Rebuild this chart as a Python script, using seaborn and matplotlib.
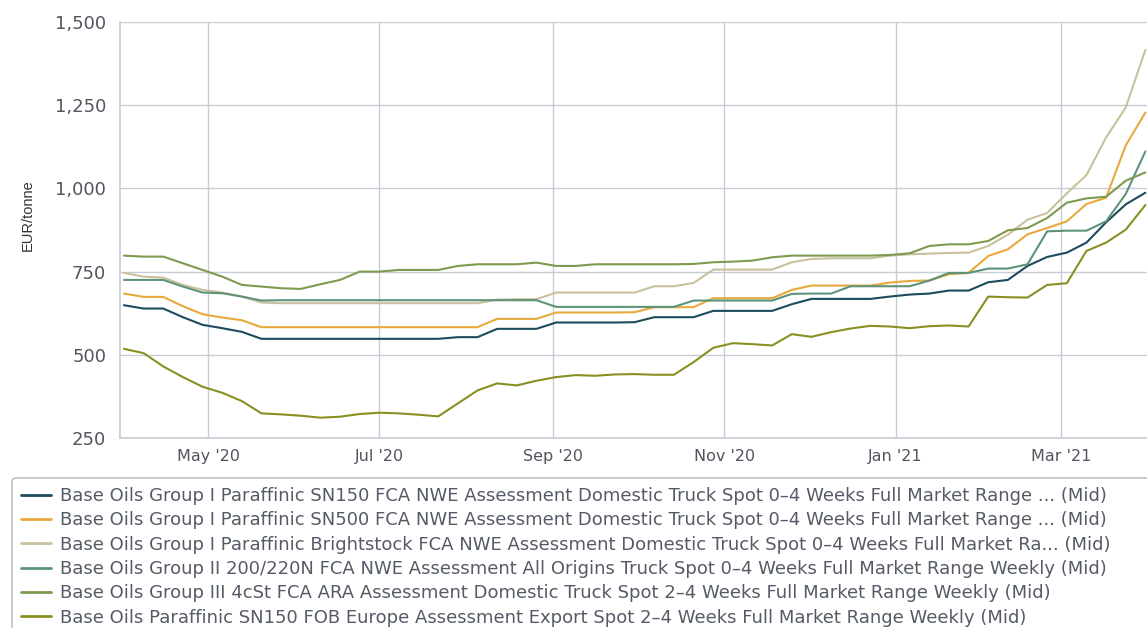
import pandas as pd
import numpy as np
import seaborn as sns
import matplotlib.pyplot as plt
import matplotlib.dates as mdates
from matplotlib.lines import Line2D
from matplotlib.ticker import FuncFormatter

# weekly assessment dates
dates = pd.date_range("2020-04-01", periods=53, freq="7D")

# prices, EUR/tonne (Mid)
sn150_fca = [649, 639, 639, 613, 590, 580, 569, 548, 548, 548, 548, 548, 548, 548,
             548, 548, 548, 553, 553, 578, 578, 578, 597, 597, 597, 597, 598, 613,
             613, 613, 632, 632, 632, 632, 652, 668, 668, 668, 668, 675, 681, 684,
             693, 693, 718, 725, 767, 794, 807, 837, 898, 952, 987]
sn500_fca = [684, 674, 674, 646, 622, 612, 604, 583, 583, 583, 583, 583, 583, 583,
             583, 583, 583, 583, 583, 608, 608, 608, 627, 627, 627, 627, 628, 643,
             643, 643, 670, 670, 670, 670, 695, 708, 708, 708, 708, 717, 722, 723,
             742, 746, 797, 817, 862, 881, 901, 953, 972, 1129, 1228]
brightstock_fca = [746, 735, 732, 710, 695, 687, 675, 657, 655, 655, 655, 655, 655, 655,
                   655, 655, 655, 655, 655, 666, 667, 667, 687, 687, 687, 687, 687, 706,
                   706, 716, 756, 756, 756, 756, 778, 788, 790, 790, 790, 798, 802, 804,
                   806, 807, 827, 861, 906, 926, 985, 1040, 1153, 1243, 1416]
group2_220n = [725, 725, 725, 705, 687, 685, 675, 663, 664, 664, 664, 664, 664, 664,
               664, 664, 664, 664, 664, 664, 664, 664, 644, 644, 644, 644, 644, 644,
               644, 663, 663, 663, 663, 663, 683, 684, 684, 706, 706, 706, 706, 723,
               746, 746, 759, 759, 772, 871, 873, 873, 901, 983, 1111]
group3_4cst = [798, 795, 795, 775, 755, 735, 710, 705, 700, 698, 712, 725, 750, 750,
               755, 755, 755, 767, 772, 772, 772, 777, 767, 767, 772, 772, 772, 772,
               772, 773, 778, 780, 783, 793, 798, 798, 798, 798, 798, 800, 805, 827,
               832, 832, 842, 874, 881, 911, 957, 970, 975, 1023, 1048]
sn150_fob = [518, 505, 465, 433, 404, 386, 361, 324, 321, 317, 311, 314, 322, 326,
             324, 320, 315, 354, 393, 414, 408, 422, 433, 439, 437, 441, 442, 440,
             440, 478, 521, 535, 532, 528, 562, 554, 568, 579, 587, 585, 580, 586,
             588, 585, 675, 673, 672, 710, 715, 812, 837, 876, 950]

names = [
    "Base Oils Group I Paraffinic SN150 FCA NWE Assessment Domestic Truck Spot 0\u20134 Weeks Full Market Range ... (Mid)",
    "Base Oils Group I Paraffinic SN500 FCA NWE Assessment Domestic Truck Spot 0\u20134 Weeks Full Market Range ... (Mid)",
    "Base Oils Group I Paraffinic Brightstock FCA NWE Assessment Domestic Truck Spot 0\u20134 Weeks Full Market Ra... (Mid)",
    "Base Oils Group II 200/220N FCA NWE Assessment All Origins Truck Spot 0\u20134 Weeks Full Market Range Weekly (Mid)",
    "Base Oils Group III 4cSt FCA ARA Assessment Domestic Truck Spot 2\u20134 Weeks Full Market Range Weekly (Mid)",
    "Base Oils Paraffinic SN150 FOB Europe Assessment Export Spot 2\u20134 Weeks Full Market Range Weekly (Mid)",
]
colors = ["#1d4c5c", "#e8a93c", "#c9c19c", "#5d9479", "#7e9a50", "#8a8f22"]
series = [sn150_fca, sn500_fca, brightstock_fca, group2_220n, group3_4cst, sn150_fob]

df = pd.DataFrame({
    "date": np.tile(dates, len(names)),
    "series": np.repeat(names, len(dates)),
    "price": np.concatenate(series),
})

sns.set_style("white")
plt.rcParams["font.family"] = ["DejaVu Sans"]

W, H = 1147, 628
fig = plt.figure(figsize=(W / 100, H / 100), dpi=100)
ax = fig.add_axes([120 / W, 1 - 438 / H, 1 - 120 / W, (438 - 22) / H])

sns.lineplot(data=df, x="date", y="price", hue="series", hue_order=names,
             palette=colors, linewidth=1.5, ax=ax, legend=False)

grid_c = "#c8ccd4"
ax.set_ylim(250, 1500)
ax.set_yticks([250, 500, 750, 1000, 1250, 1500])
ax.yaxis.set_major_formatter(FuncFormatter(lambda v, p: f"{int(v):,}"))
ax.set_xlim(pd.Timestamp("2020-03-30 14:00"), pd.Timestamp("2021-03-31 14:00"))
ax.xaxis.set_major_locator(mdates.MonthLocator(bymonth=[1, 3, 5, 7, 9, 11]))
ax.xaxis.set_major_formatter(mdates.DateFormatter("%b '%y"))
ax.grid(True, color=grid_c, linewidth=1.0)
ax.set_axisbelow(True)

for side in ["top", "right"]:
    ax.spines[side].set_visible(False)
for side in ["left", "bottom"]:
    ax.spines[side].set_color(grid_c)
    ax.spines[side].set_linewidth(1.2)

ax.tick_params(axis="y", length=0, pad=10, labelsize=13, labelcolor="#505560")
ax.tick_params(axis="x", length=5, color=grid_c, pad=3, labelsize=11.5, labelcolor="#505560")

ax.set_xlabel("")
ax.set_ylabel("EUR/tonne", fontsize=10.5, color="#333333", family="Liberation Sans")
ax.yaxis.set_label_coords(-0.083, 0.535)

handles = [Line2D([], [], color=c, linewidth=2) for c in colors]
leg = fig.legend(handles, names, loc="upper left",
                 bbox_to_anchor=(12 / W, -0.05, 1.1, 1 - 478 / H + 0.05),
                 mode="expand", fontsize=13, labelcolor="#555b66",
                 frameon=True, fancybox=True, handlelength=1.65, handletextpad=0.5,
                 labelspacing=0.35, borderpad=0.5, borderaxespad=0)
leg.get_frame().set_edgecolor("#b0b0b0")
leg.get_frame().set_linewidth(1.2)

fig.savefig("out.png", dpi=100)
